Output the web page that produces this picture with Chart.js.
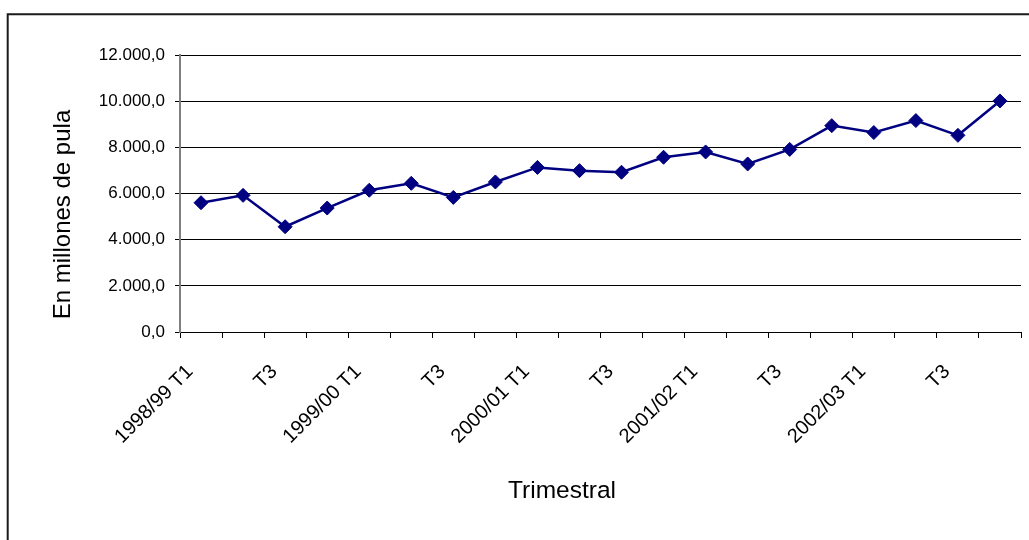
<!DOCTYPE html>
<html>
<head>
<meta charset="utf-8">
<script src="https://cdn.jsdelivr.net/npm/chart.js@4/dist/chart.umd.min.js"></script>
<style>
  html, body { margin: 0; padding: 0; background: #fff; }
  #wrap { width: 1029px; height: 540px; position: relative; }
  canvas { display: block; }
</style>
</head>
<body>
<div id="wrap"><canvas id="c" width="1029" height="540"></canvas></div>
<script>
// Quarterly series, in millions of pula
const quarters = [
  '1998/99 T1', 'T2', 'T3', 'T4',
  '1999/00 T1', 'T2', 'T3', 'T4',
  '2000/01 T1', 'T2', 'T3', 'T4',
  '2001/02 T1', 'T2', 'T3', 'T4',
  '2002/03 T1', 'T2', 'T3', 'T4'
];
const values = [
  5600, 5920, 4560, 5370,
  6140, 6440, 5830, 6500,
  7130, 6990, 6920, 7570,
  7800, 7280, 7910, 8940,
  8640, 9160, 8520, 10010
];
const yTicks = [0, 2000, 4000, 6000, 8000, 10000, 12000];
const yTitle = 'En millones de pula';
const xTitle = 'Trimestral';

const FONT = "'Liberation Sans', Arial, sans-serif";

// 12000 -> "12.000,0"
function fmt(v) {
  const s = Math.round(v).toString().replace(/\B(?=(\d{3})+(?!\d))/g, '.');
  return s + ',0';
}

// Outer frame (left and top edges) and the two axis titles
const decor = {
  id: 'decor',
  afterDraw(chart) {
    const ctx = chart.ctx;
    const a = chart.chartArea;
    ctx.save();
    ctx.strokeStyle = '#1a1a1a';
    ctx.lineWidth = 2;
    ctx.beginPath();
    ctx.moveTo(7.7, 540);
    ctx.lineTo(7.7, 14.3);
    ctx.lineTo(1029, 14.3);
    ctx.stroke();

    ctx.fillStyle = '#000';
    ctx.font = '24px ' + FONT;
    ctx.textAlign = 'center';
    ctx.textBaseline = 'middle';
    ctx.save();
    ctx.translate(63, (a.top + a.bottom) / 2 + 21);
    ctx.rotate(-Math.PI / 2);
    ctx.fillText(yTitle, 0, 0);
    ctx.restore();
    ctx.font = '24.5px ' + FONT;
    ctx.fillText(xTitle, 562, 491);
    ctx.restore();
  }
};

new Chart(document.getElementById('c'), {
  type: 'line',
  data: {
    labels: quarters,
    datasets: [{
      data: values,
      borderColor: '#000080',
      backgroundColor: '#000080',
      borderWidth: 2.5,
      pointStyle: 'rectRot',
      pointRadius: 7,
      pointBorderWidth: 1,
      pointBorderColor: '#000080',
      pointBackgroundColor: '#000080',
      tension: 0,
      fill: false
    }]
  },
  options: {
    responsive: false,
    animation: false,
    devicePixelRatio: 1,
    layout: { padding: { left: 0, top: 55, right: 7, bottom: 0 } },
    plugins: { legend: { display: false }, tooltip: { enabled: false } },
    scales: {
      x: {
        type: 'category',
        offset: true,
        grid: {
          offset: true,
          drawOnChartArea: false,
          drawTicks: true,
          tickLength: 6,
          color: '#000',
          lineWidth: 1
        },
        border: { display: true, color: '#000', width: 1 },
        ticks: {
          autoSkip: false,
          maxRotation: 45,
          minRotation: 45,
          padding: 22,
          labelOffset: -11,
          color: '#000',
          font: { family: FONT, size: 20 },
          callback: function (val, idx) { return idx % 2 === 0 ? quarters[idx] : ''; }
        },
        afterFit(scale) {
          scale.height = 208;
          scale.paddingRight = 0;
          scale.paddingLeft = 0;
        }
      },
      y: {
        min: 0,
        max: 12000,
        afterBuildTicks(scale) { scale.ticks = yTicks.map(v => ({ value: v })); },
        grid: {
          color: '#000',
          lineWidth: 1,
          tickLength: 5,
          drawTicks: true
        },
        border: { display: true, color: '#808080', width: 2 },
        ticks: {
          padding: 10,
          color: '#000',
          font: { family: FONT, size: 17 },
          callback: v => fmt(v)
        },
        afterFit(scale) { scale.width = 180; }
      }
    }
  },
  plugins: [decor]
});
</script>
</body>
</html>
